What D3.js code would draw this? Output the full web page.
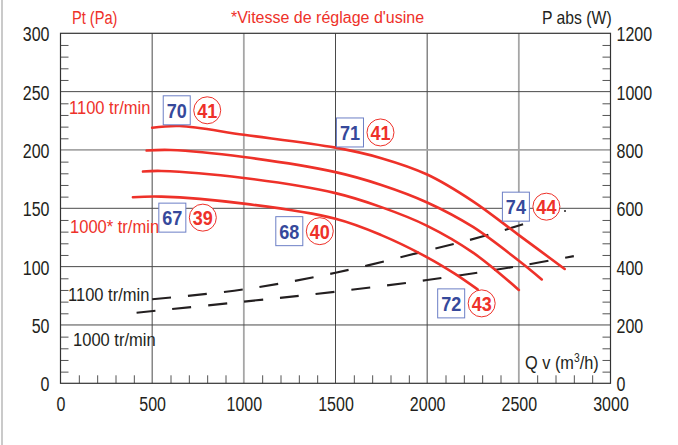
<!DOCTYPE html>
<html>
<head>
<meta charset="utf-8">
<script src="https://cdn.jsdelivr.net/npm/d3@7"></script>
<style>
  body { margin: 0; background: #fff; }
  svg { display: block; font-family: "Liberation Sans", Arial, sans-serif; }
</style>
</head>
<body>
<svg id="chart"></svg>
<script>
// courbes débit / pression, ventilateur
var width = 678, height = 445;

// axes
const qTicks = [0, 500, 1000, 1500, 2000, 2500, 3000];
const ptTicks = [0, 50, 100, 150, 200, 250, 300];
const pwTicks = [0, 200, 400, 600, 800, 1000, 1200];

// pression totale (Pa) selon le débit (m3/h), 4 vitesses
const pt1 = [[500, 219], [650, 220.5], [1000, 213], [1500, 202], [1750, 193], [2000, 179], [2250, 156], [2500, 127], [2750, 98]];
const pt2 = [[470, 199.5], [600, 200], [1000, 194], [1500, 181], [1750, 170], [2000, 155], [2250, 134], [2500, 105], [2625, 89]];
const pt3 = [[450, 181.5], [550, 182], [1000, 176], [1500, 163], [1750, 151], [2000, 135], [2250, 112], [2500, 80]];
const pt4 = [[395, 159.5], [550, 160], [1000, 154], [1500, 141], [1750, 127], [2000, 108], [2150, 94], [2275, 80.5]];

// puissance absorbée (W)
const pw1100 = [[500, 288], [1000, 322], [1500, 379], [2000, 455], [2300, 503], [2610, 562]];
const pw1000 = [[415, 242], [1000, 280], [1500, 314], [2000, 354], [2500, 402], [2800, 436]];

// repères : débit, pression, numéro carré, numéro rond
const badgeQ = [634, 1579, 610, 1248, 2484, 2131];
const badgePt = [234, 215, 142, 130.4, 151.4, 68.5];
const badgeBox = ["70", "71", "67", "68", "74", "72"];
const badgeCircle = ["41", "41", "39", "40", "44", "43"];

const red = "#ee3129", blue = "#36499b", ink = "#231f20";

const x = d3.scaleLinear().domain([0, 3000]).range([60.5, 610.5]);
const y = d3.scaleLinear().domain([0, 300]).range([383.3, 33.3]);
const yR = d3.scaleLinear().domain([0, 1200]).range([383.3, 33.3]);

const svg = d3.select("#chart").attr("width", width).attr("height", height);

// police étroite simulée : on écrase le texte horizontalement
function narrow(sel, sx) {
  sel.each(function () {
    const t = d3.select(this);
    const tx = +(t.attr("x") || 0), ty = +(t.attr("y") || 0);
    t.attr("x", 0).attr("y", 0).attr("transform", `translate(${tx},${ty}) scale(${sx},1)`);
  });
}

// bord gauche de la page
svg.append("line").attr("x1", 2).attr("x2", 2).attr("y1", 0).attr("y2", height)
  .attr("stroke", "#b8b8b8").attr("stroke-width", 1.5);

// grille
const grid = svg.append("g");
grid.selectAll("line.v").data(qTicks.slice(1, -1)).enter().append("line")
  .attr("x1", d => x(d)).attr("x2", d => x(d)).attr("y1", y(0)).attr("y2", y(300))
  .attr("stroke", d => (d == 1000 || d == 2500) ? "#a6a6a6" : "#4a4a4a")
  .attr("stroke-width", d => (d == 1000 || d == 2500) ? 1.8 : 1);
grid.selectAll("line.h").data(ptTicks.slice(1, -1)).enter().append("line")
  .attr("x1", x(0)).attr("x2", x(3000)).attr("y1", d => y(d)).attr("y2", d => y(d))
  .attr("stroke", d => d == 200 ? "#a6a6a6" : "#4a4a4a")
  .attr("stroke-width", d => d == 200 ? 1.8 : 1);

// petites graduations
const minorPt = d3.range(0, 301, 10).filter(d => d % 50);
const minorW = d3.range(0, 1201, 40).filter(d => d % 200);
const minorQ = d3.range(0, 3001, 100).filter(d => d % 500);

svg.append("g").attr("transform", `translate(${x(0)},0)`)
  .call(d3.axisRight(y).tickValues(minorPt).tickSize(8).tickFormat(""))
  .call(g => g.select(".domain").remove())
  .selectAll("line").attr("stroke", "#555");
svg.append("g").attr("transform", `translate(${x(3000)},0)`)
  .call(d3.axisLeft(yR).tickValues(minorW).tickSize(8).tickFormat(""))
  .call(g => g.select(".domain").remove())
  .selectAll("line").attr("stroke", "#555");
svg.append("g").attr("transform", `translate(0,${y(0)})`)
  .call(d3.axisTop(x).tickValues(minorQ).tickSize(8).tickFormat(""))
  .call(g => g.select(".domain").remove())
  .selectAll("line").attr("stroke", "#555");

// cadre
svg.append("rect").attr("x", x(0)).attr("y", y(300))
  .attr("width", x(3000) - x(0)).attr("height", y(0) - y(300))
  .attr("fill", "none").attr("stroke", "#333").attr("stroke-width", 1.2);

// libellés des axes
function labels(g) {
  g.select(".domain").remove();
  g.selectAll("line").remove();
  g.selectAll("text").attr("font-family", null).attr("font-size", 20).attr("fill", ink)
    .call(narrow, 0.8);
}
svg.append("g").attr("transform", `translate(${x(0)},1)`)
  .call(d3.axisLeft(y).tickValues(ptTicks).tickSize(0).tickPadding(11).tickFormat(d3.format("d"))).call(labels);
svg.append("g").attr("transform", `translate(${x(3000)},1)`)
  .call(d3.axisRight(yR).tickValues(pwTicks).tickSize(0).tickPadding(6).tickFormat(d3.format("d"))).call(labels);
svg.append("g").attr("transform", `translate(0,${y(0)})`)
  .call(d3.axisBottom(x).tickValues(qTicks).tickSize(0).tickPadding(13).tickFormat(d3.format("d"))).call(labels);

// courbes
const line = d3.line().x(d => x(d[0])).y(d => y(d[1])).curve(d3.curveCatmullRom.alpha(0.5));
const lineW = d3.line().x(d => x(d[0])).y(d => yR(d[1])).curve(d3.curveCatmullRom.alpha(0.5));

svg.selectAll("path.pw").data([pw1100, pw1000]).enter().append("path")
  .attr("d", lineW).attr("fill", "none").attr("stroke", ink)
  .attr("stroke-width", 2.1).attr("stroke-dasharray", "19,17");

svg.selectAll("path.pt").data([pt1, pt2, pt3, pt4]).enter().append("path")
  .attr("d", line).attr("fill", "none").attr("stroke", red).attr("stroke-width", 2.6)
  .attr("stroke-linecap", "round");

// textes
function txt(s, px, py, color, size, sx) {
  return svg.append("text").attr("x", px).attr("y", py).attr("fill", color)
    .attr("font-size", size).text(s).call(narrow, sx);
}
txt("Pt (Pa)", 72, 24, red, 19, 0.77);
txt("P abs (W)", 542, 24, ink, 19, 0.83);
txt("*Vitesse de réglage d'usine", 231, 23, red, 16, 1);
txt("1100 tr/min", 69, 114, red, 19, 0.87);
txt("1000* tr/min", 70, 233, red, 19, 0.87);
txt("1100 tr/min", 68, 301, ink, 19, 0.87);
txt("1000 tr/min", 73, 346, ink, 19, 0.87);
const qv = txt("Q v (m", 525, 369, ink, 19, 0.86);
qv.append("tspan").attr("dy", -7).attr("font-size", 12).text("3");
qv.append("tspan").attr("dy", 7).text("/h)");

// repères numérotés
const badges = svg.selectAll("g.badge").data(badgeBox).enter().append("g")
  .attr("transform", (d, i) => `translate(${x(badgeQ[i])},${y(badgePt[i])})`);
badges.append("rect").attr("x", -13.5).attr("y", -14.5).attr("width", 27).attr("height", 29)
  .attr("fill", "#fff").attr("stroke", "#6c7fc6").attr("stroke-width", 1);
badges.append("text").attr("text-anchor", "middle").attr("y", 7.5)
  .attr("font-size", 20.5).attr("font-weight", "bold").attr("fill", blue).text(d => d)
  .call(narrow, 0.88);
badges.append("circle").attr("cx", 30.5).attr("cy", 0).attr("r", 13.5)
  .attr("fill", "#fff").attr("stroke", red).attr("stroke-width", 1);
badges.append("text").attr("text-anchor", "middle").attr("x", 30.5).attr("y", 7.5)
  .attr("font-size", 20.5).attr("font-weight", "bold").attr("fill", red).text((d, i) => badgeCircle[i])
  .call(narrow, 0.88);

svg.append("circle").attr("cx", 565).attr("cy", 211).attr("r", 1).attr("fill", ink);
</script>
</body>
</html>
